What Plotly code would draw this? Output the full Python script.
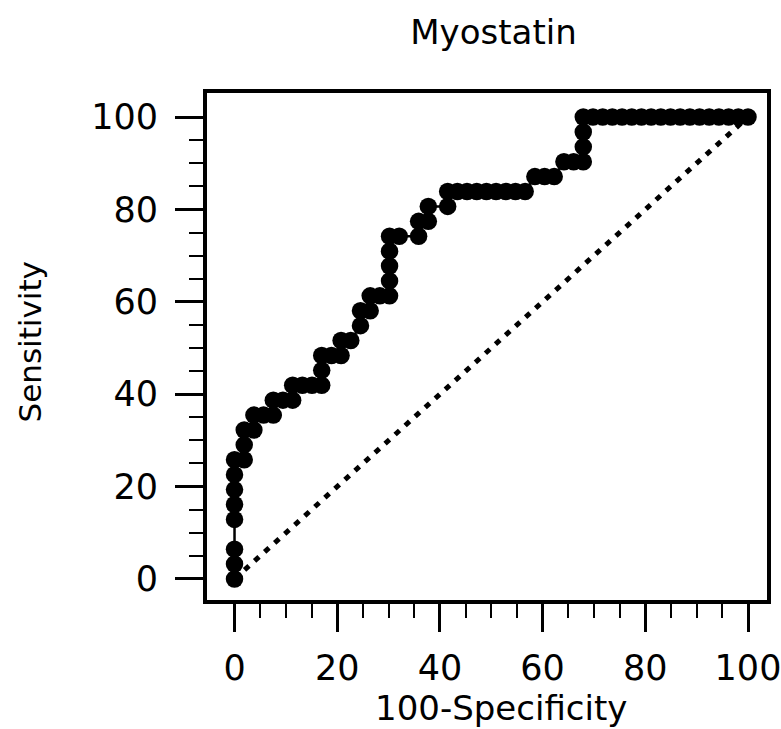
import plotly.graph_objects as go

# ROC curve points (100-Specificity, Sensitivity)
fpr = [0, 0, 0, 0, 0, 0, 0, 0,
       1.89, 1.89, 1.89,
       3.77, 3.77, 5.66, 7.55,
       7.55, 9.43, 11.32,
       11.32, 13.21, 15.09, 16.98,
       16.98, 16.98, 18.87, 20.75,
       20.75, 22.64,
       24.53, 24.53, 26.42,
       26.42, 28.30, 30.19,
       30.19, 30.19, 30.19, 30.19,
       32.08, 35.85,
       35.85, 37.74,
       37.74, 41.51,
       41.51, 43.40, 45.28, 47.17, 49.06, 50.94, 52.83, 54.72, 56.60,
       58.49, 60.38, 62.26,
       64.15, 66.04, 67.92,
       67.92, 67.92, 67.92,
       69.81, 71.70, 73.58, 75.47, 77.36, 79.25, 81.13, 83.02, 84.91,
       86.79, 88.68, 90.57, 92.45, 94.34, 96.23, 98.11, 100]
tpr = [0, 3.23, 6.45, 12.90, 16.13, 19.35, 22.58, 25.81,
       25.81, 29.03, 32.26,
       32.26, 35.48, 35.48, 35.48,
       38.71, 38.71, 38.71,
       41.94, 41.94, 41.94, 41.94,
       45.16, 48.39, 48.39, 48.39,
       51.61, 51.61,
       54.84, 58.06, 58.06,
       61.29, 61.29, 61.29,
       64.52, 67.74, 70.97, 74.19,
       74.19, 74.19,
       77.42, 77.42,
       80.65, 80.65,
       83.87, 83.87, 83.87, 83.87, 83.87, 83.87, 83.87, 83.87, 83.87,
       87.10, 87.10, 87.10,
       90.32, 90.32, 90.32,
       93.55, 96.77, 100,
       100, 100, 100, 100, 100, 100, 100, 100, 100,
       100, 100, 100, 100, 100, 100, 100, 100]

diag_x = [0, 100]
diag_y = [0, 100]

major_ticks = [0, 20, 40, 60, 80, 100]
minor_ticks = [5, 10, 15, 25, 30, 35, 45, 50, 55, 65, 70, 75, 85, 90, 95]

title_text = "Myostatin"
x_title = "100-Specificity"
y_title = "Sensitivity"

FONT = "DejaVu Sans"

fig = go.Figure()
fig.add_trace(go.Scatter(x=diag_x, y=diag_y, mode="lines",
                         line=dict(color="black", width=5, dash="6px,7.5px"),
                         hoverinfo="skip", showlegend=False))
fig.add_trace(go.Scatter(x=fpr, y=tpr, mode="lines+markers",
                         line=dict(color="black", width=2.5),
                         marker=dict(color="black", size=17.5, line=dict(width=0)),
                         showlegend=False))

axis_common = dict(
    showline=True, linewidth=4, linecolor="black", mirror=True,
    showgrid=False, zeroline=False, automargin=False,
    ticks="outside", ticklen=28, tickwidth=3, tickcolor="black",
    tickvals=major_ticks, ticklabeloverflow="allow",
    tickfont=dict(family=FONT, size=35, color="black"),
    minor=dict(tickvals=minor_ticks, ticks="outside", ticklen=14,
               tickwidth=2, tickcolor="black", showgrid=False),
)
fig.update_xaxes(range=[-5.36, 103.7], ticklabelstandoff=6, **axis_common)
fig.update_yaxes(range=[-4.55, 105.2], ticklabelstandoff=10, **axis_common)

fig.update_layout(
    width=781, height=729,
    margin=dict(l=207, r=14, t=93, b=129),
    paper_bgcolor="white", plot_bgcolor="white",
    title=dict(text=title_text, x=493.5 / 781, xref="container", xanchor="center",
               y=1 - 32 / 729, yref="container", yanchor="middle",
               font=dict(family=FONT, size=34, color="black")),
    annotations=[
        dict(text=x_title, xref="paper", yref="paper",
             x=(501 - 207) / 560, y=-(708 - 600) / 507,
             xanchor="center", yanchor="middle", showarrow=False,
             font=dict(family=FONT, size=34, color="black")),
        dict(text=y_title, xref="paper", yref="paper",
             x=-(207 - 29) / 560, y=(600 - 342.5) / 507,
             xanchor="center", yanchor="middle", showarrow=False, textangle=-90,
             font=dict(family=FONT, size=31, color="black")),
    ],
)

fig.write_html("out.html", config={"displayModeBar": False},
               post_script="document.body.style.margin='0px';")
